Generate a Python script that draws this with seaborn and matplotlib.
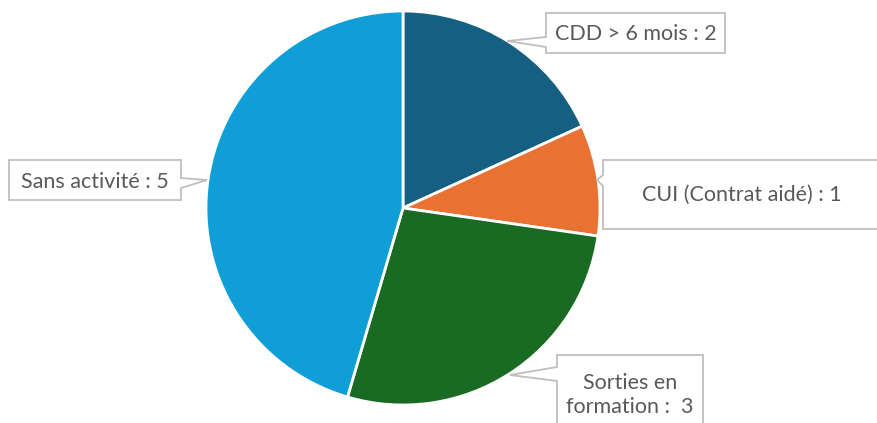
import matplotlib
matplotlib.use("Agg")
import matplotlib.pyplot as plt
from matplotlib.patches import Polygon
import seaborn as sns

# chart data
labels = ["CDD > 6 mois", "CUI (Contrat aidé)", "Sorties en\nformation", "Sans activité"]
values = [2, 1, 3, 5]
colors = ["#156082", "#E97132", "#196B24", "#0F9ED5"]
label_texts = ["CDD > 6 mois : 2", "CUI (Contrat aidé) : 1", "Sorties en\nformation :  3", "Sans activité : 5"]

W, H = 878, 423
TEXT_COLOR = "#595959"
BOX_EDGE = "#BFBFBF"

sns.set_theme(style="white")
plt.rcParams["font.family"] = ["Lato", "DejaVu Sans"]

fig = plt.figure(figsize=(W / 100, H / 100), dpi=100)
ax = fig.add_axes([0, 0, 1, 1])
ax.set_xlim(0, W)
ax.set_ylim(0, H)
ax.set_aspect("equal")
ax.axis("off")

ax.pie(values, colors=colors, startangle=90, counterclock=False,
       center=(403, H - 208), radius=197,
       wedgeprops=dict(edgecolor="white", linewidth=2))
ax.set_xlim(0, W)
ax.set_ylim(0, H)


def callout(box, side, p_a, p_b, tip):
    """Box (x0, y0, x1, y1) in pixel coords (y down) with a pointer on one side."""
    x0, y0, x1, y1 = box
    if side == "left":
        pts = [(x0, y0), (x1, y0), (x1, y1), (x0, y1), (x0, p_b), tip, (x0, p_a)]
    else:
        pts = [(x0, y0), (x1, y0), (x1, p_a), tip, (x1, p_b), (x1, y1), (x0, y1)]
    pts = [(x, H - y) for x, y in pts]
    ax.add_patch(Polygon(pts, closed=True, facecolor="white", edgecolor=BOX_EDGE,
                         linewidth=1.3, zorder=3, clip_on=True))


# callout layouts (pixel coords)
layouts = [
    dict(box=(546, 13, 725, 53), side="left", p_a=37, p_b=47, tip=(507, 41), text=(636, 34)),
    dict(box=(603, 160, 895, 229), side="left", p_a=175, p_b=186, tip=(597, 180), text=(742, 195)),
    dict(box=(557, 355, 703, 440), side="left", p_a=367, p_b=381, tip=(510, 375), text=(630, 395)),
    dict(box=(9, 160, 181, 200), side="right", p_a=178, p_b=188, tip=(207, 180), text=(95, 182)),
]

for lay, txt in zip(layouts, label_texts):
    callout(lay["box"], lay["side"], lay["p_a"], lay["p_b"], lay["tip"])
    tx, ty = lay["text"]
    ax.text(tx, H - ty, txt, ha="center", va="center", fontsize=15.5,
            color=TEXT_COLOR, zorder=4, linespacing=1.2)

fig.savefig("out.png", dpi=100, facecolor="white")
plt.close(fig)
